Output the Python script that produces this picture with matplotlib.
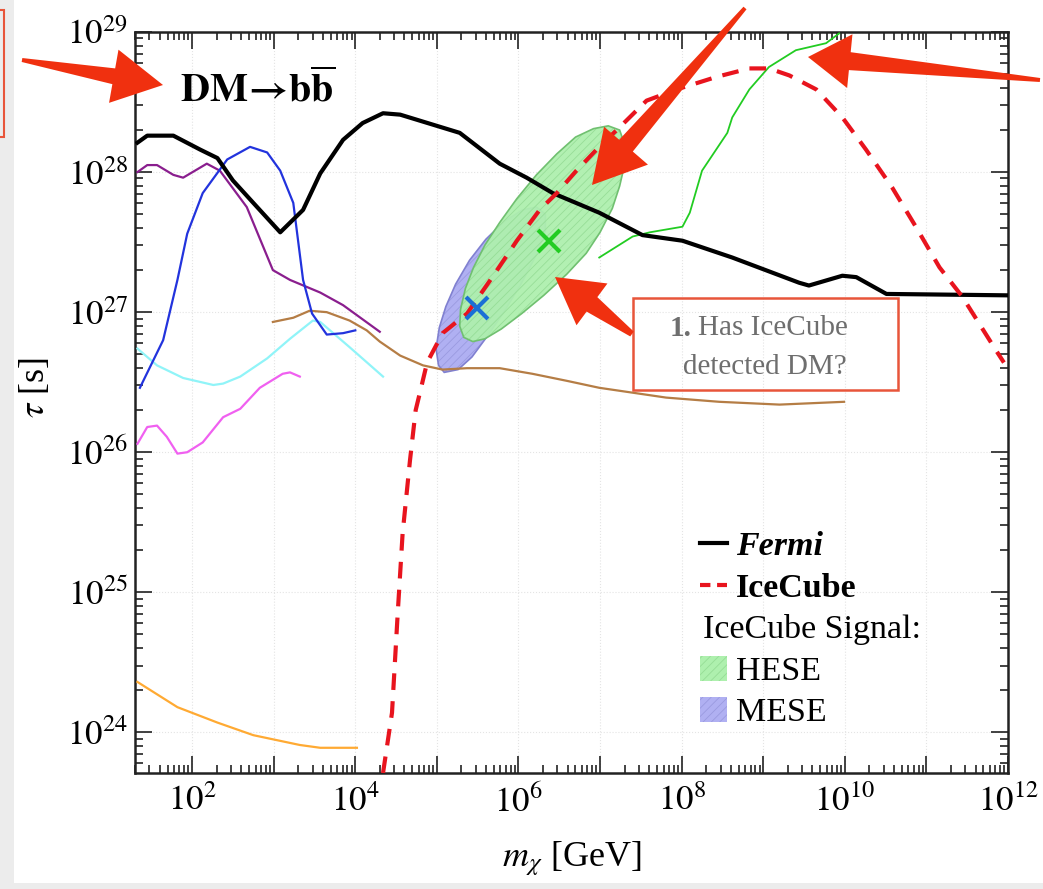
import numpy as np
import matplotlib
matplotlib.use('Agg')
import matplotlib.pyplot as plt
import matplotlib.patches as mpatches
from matplotlib.lines import Line2D
from matplotlib.ticker import LogLocator, FuncFormatter, NullFormatter

plt.rcParams['font.family'] = ['Liberation Serif', 'DejaVu Serif']
plt.rcParams['mathtext.fontset'] = 'stix'
plt.rcParams['hatch.linewidth'] = 0.6

# curves, as log10(m / GeV) and log10(tau / s)
fermi_lm = [1.33, 1.45, 1.77, 2.10, 2.31, 2.50, 2.75, 3.08, 3.36, 3.57, 3.85, 4.09, 4.34, 4.55,
            5.28, 5.77, 6.10, 6.42, 6.99, 7.52, 8.01, 8.62, 9.44, 9.56, 9.97, 10.14, 10.51, 12.0]
fermi_lt = [28.21, 28.26, 28.26, 28.16, 28.10, 27.94, 27.78, 27.57, 27.73, 27.99, 28.23, 28.35, 28.42, 28.41,
            28.28, 28.06, 27.96, 27.85, 27.71, 27.55, 27.51, 27.39, 27.21, 27.19, 27.26, 27.25, 27.13, 27.12]

icecube_lm = [4.34, 4.45, 4.52, 4.58, 4.67, 4.74, 4.79, 4.88, 5.07, 5.37, 5.68, 5.98, 6.26, 6.47, 6.71,
              6.99, 7.24, 7.57, 7.94, 8.43, 8.83, 9.07, 9.32, 9.65, 9.97, 10.26, 10.58, 10.87, 11.16,
              11.44, 11.85, 11.95]
icecube_lt = [23.71, 24.14, 24.85, 25.42, 25.94, 26.30, 26.42, 26.64, 26.85, 26.99, 27.25, 27.51, 27.73,
              27.85, 28.01, 28.18, 28.32, 28.51, 28.59, 28.68, 28.74, 28.74, 28.69, 28.59, 28.39, 28.16,
              27.89, 27.61, 27.32, 27.11, 26.73, 26.64]

purple_lm = [1.33, 1.45, 1.57, 1.77, 1.89, 2.18, 2.34, 2.67, 2.99, 3.20, 3.57, 3.85, 4.30]
purple_lt = [28.0, 28.05, 28.05, 27.98, 27.96, 28.06, 28.01, 27.75, 27.30, 27.23, 27.14, 27.05, 26.86]

blue_lm = [1.36, 1.645, 1.82, 1.94, 2.13, 2.43, 2.71, 2.92, 3.08, 3.24, 3.36, 3.47, 3.65, 3.85, 4.0]
blue_lt = [26.46, 26.80, 27.23, 27.56, 27.85, 28.09, 28.18, 28.14, 28.01, 27.78, 27.23, 26.99, 26.84, 26.85, 26.87]

cyan_lm = [1.33, 1.57, 1.89, 2.26, 2.38, 2.59, 2.92, 3.20, 3.48, 3.57, 3.93, 4.34]
cyan_lt = [26.74, 26.62, 26.53, 26.48, 26.49, 26.54, 26.67, 26.81, 26.94, 26.93, 26.75, 26.54]

magenta_lm = [1.33, 1.45, 1.57, 1.69, 1.82, 1.94, 2.13, 2.38, 2.59, 2.83, 3.11, 3.20, 3.32]
magenta_lt = [26.06, 26.18, 26.19, 26.11, 25.99, 26.0, 26.07, 26.25, 26.31, 26.46, 26.56, 26.57, 26.54]

orange_lm = [1.33, 1.82, 2.31, 2.75, 3.32, 3.57, 4.02]
orange_lt = [24.36, 24.18, 24.07, 23.98, 23.91, 23.89, 23.89]

brown_lm = [2.99, 3.24, 3.44, 3.65, 3.93, 4.14, 4.30, 4.55, 4.83, 5.07, 5.37, 5.77, 6.17, 6.59, 6.99,
            7.81, 8.46, 9.20, 9.99]
brown_lt = [26.93, 26.96, 27.01, 27.0, 26.94, 26.87, 26.79, 26.69, 26.62, 26.59, 26.60, 26.60, 26.56,
            26.51, 26.46, 26.39, 26.36, 26.34, 26.36]

green_lm = [6.99, 7.40, 7.61, 8.01, 8.10, 8.25, 8.56, 8.62, 8.83, 9.07, 9.40, 9.77, 9.93]
green_lt = [27.39, 27.54, 27.57, 27.61, 27.71, 28.01, 28.28, 28.39, 28.59, 28.75, 28.87, 28.92, 28.99]

# signal regions (contours)
hese_lm = [6.92, 7.10, 7.24, 7.30, 7.30, 7.24, 7.15, 7.00, 6.83, 6.59, 6.31, 6.04, 5.79, 5.59, 5.44,
           5.33, 5.28, 5.29, 5.35, 5.45, 5.59, 5.77, 5.98, 6.22, 6.47, 6.70]
hese_lt = [28.31, 28.33, 28.30, 28.20, 28.05, 27.90, 27.74, 27.57, 27.42, 27.27, 27.12, 26.99, 26.88,
           26.81, 26.79, 26.82, 26.90, 27.02, 27.17, 27.32, 27.48, 27.64, 27.81, 27.98, 28.13, 28.25]
mese_lm = [5.09, 5.02, 4.99, 5.03, 5.11, 5.23, 5.40, 5.60, 5.83, 6.05, 6.22, 6.33, 6.33, 6.22, 6.03,
           5.82, 5.62, 5.43, 5.26]
mese_lt = [26.57, 26.62, 26.74, 26.89, 27.04, 27.20, 27.37, 27.52, 27.65, 27.73, 27.75, 27.70, 27.58,
           27.41, 27.20, 27.00, 26.83, 26.68, 26.59]
hese_best = (6.38, 27.51)
mese_best = (5.49, 27.03)


def pw(a):
    return 10 ** np.array(a)


fig = plt.figure(figsize=(10.43, 8.89), dpi=100)
fig.patch.set_facecolor('white')
ax = fig.add_axes([135 / 1043, 1 - 773 / 889, 873 / 1043, 741 / 889])
ax.set_xscale('log')
ax.set_yscale('log')
ax.set_xlim(10 ** 1.3, 1e12)
ax.set_ylim(10 ** 23.71, 1e29)

# signal regions
ax.fill(pw(mese_lm), pw(mese_lt), facecolor='#b0b0f2', edgecolor='#9a9ae0', hatch='////', lw=0, zorder=2)
ax.fill(pw(mese_lm), pw(mese_lt), fill=False, edgecolor='#8080d0', lw=1.2, zorder=2)
ax.fill(pw(hese_lm), pw(hese_lt), facecolor='#aef0ae', edgecolor='#96dd96', hatch='////', lw=0,
        alpha=0.95, zorder=2.1)
ax.fill(pw(hese_lm), pw(hese_lt), fill=False, edgecolor='#70c070', lw=1.2, zorder=2.1)

ax.plot(pw(orange_lm), pw(orange_lt), color='#ffaa33', lw=1.6, zorder=3)
ax.plot(pw(magenta_lm), pw(magenta_lt), color='#f060f0', lw=1.6, zorder=3)
ax.plot(pw(cyan_lm), pw(cyan_lt), color='#90f4f8', lw=1.6, zorder=3)
ax.plot(pw(brown_lm), pw(brown_lt), color='#b57d45', lw=1.6, zorder=3)
ax.plot(pw(purple_lm), pw(purple_lt), color='#8a1e8e', lw=1.6, zorder=3)
ax.plot(pw(blue_lm), pw(blue_lt), color='#2233dd', lw=1.6, zorder=3)
ax.plot(pw(green_lm), pw(green_lt), color='#22cc22', lw=1.3, zorder=3)
ax.plot(pw(fermi_lm), pw(fermi_lt), color='black', lw=3, zorder=4)
ax.plot(pw(icecube_lm), pw(icecube_lt), color='#e8141e', lw=3, ls=(0, (4, 2.7)), zorder=4)

ax.plot(10 ** hese_best[0], 10 ** hese_best[1], marker='x', ms=16, mew=3, color='#22cc22', zorder=5)
ax.plot(10 ** mese_best[0], 10 ** mese_best[1], marker='x', ms=16, mew=3, color='#1a6fd6', zorder=5)

# ticks
ax.xaxis.set_major_locator(LogLocator(base=10, numticks=30))
ax.xaxis.set_minor_locator(LogLocator(base=10, subs=np.arange(2, 10), numticks=30))
ax.yaxis.set_major_locator(LogLocator(base=10, numticks=30))
ax.yaxis.set_minor_locator(LogLocator(base=10, subs=np.arange(2, 10), numticks=30))


def xfmt(v, p):
    e = int(round(np.log10(v)))
    return r'$10^{%d}$' % e if e % 2 == 0 else ''


ax.xaxis.set_major_formatter(FuncFormatter(xfmt))
ax.yaxis.set_major_formatter(FuncFormatter(lambda v, p: r'$10^{%d}$' % int(round(np.log10(v)))))
ax.xaxis.set_minor_formatter(NullFormatter())
ax.yaxis.set_minor_formatter(NullFormatter())
ax.tick_params(which='both', direction='in', top=True, right=True, width=1.2, color='#222222')
ax.tick_params(which='major', length=12, labelsize=25)
ax.tick_params(which='minor', length=6)
ax.tick_params(axis='x', pad=9)
ax.tick_params(axis='y', pad=5)
for s in ax.spines.values():
    s.set_linewidth(1.8)
    s.set_color('#222222')
ax.grid(True, which='major', color='#e4e4e4', ls=':', lw=0.8)
ax.set_axisbelow(True)

ax.set_xlabel(r'$m_\chi$ [GeV]', fontsize=26, va='center')
ax.set_ylabel(r'$\tau$ [s]', fontsize=26, va='center')
ax.xaxis.set_label_coords(0.5, -0.115)
ax.yaxis.set_label_coords(-0.115, 0.52)

ax.text(180 / 1043, 1 - 90 / 889, r'$\mathbf{DM\!\rightarrow\! b}\overline{\mathbf{b}}$',
        transform=fig.transFigure, fontsize=29, va='center', ha='left')

handles = [Line2D([], [], color='black', lw=3),
           Line2D([], [], color='#e8141e', lw=3, ls=(0, (2.5, 1.6))),
           Line2D([], [], color='none'),
           mpatches.Patch(facecolor='#aef0ae', edgecolor='#96dd96', hatch='////', lw=0),
           mpatches.Patch(facecolor='#b0b0f2', edgecolor='#9a9ae0', hatch='////', lw=0)]
labels = ['Fermi', 'IceCube', 'IceCube Signal:', 'HESE', 'MESE']
leg = ax.legend(handles, labels, loc='upper left', bbox_to_anchor=(700 / 1043, 1 - 531 / 889),
                bbox_transform=fig.transFigure, frameon=False, fontsize=24.5, handlelength=0.8,
                handleheight=0.75, handletextpad=0.25, labelspacing=0.3, borderpad=0, borderaxespad=0)
leg.set_zorder(10)
t = leg.get_texts()
t[0].set_fontweight('bold')
t[0].set_fontstyle('italic')
t[1].set_fontweight('bold')
t[2].set_x(-33)

# slide overlay: background strips, callout box and red arrows (pixel coordinates)
ov = fig.add_axes([0, 0, 1, 1], zorder=20)
ov.set_xlim(0, 1043)
ov.set_ylim(889, 0)
ov.axis('off')
ov.patch.set_alpha(0)
ov.add_patch(mpatches.Rectangle((0, 0), 14, 889, facecolor='#ececec', lw=0))
ov.add_patch(mpatches.Rectangle((0, 883), 1043, 6, facecolor='#ececec', lw=0))
ov.add_patch(mpatches.Rectangle((-10, 10), 14, 127, facecolor='none', edgecolor='#e8553a', lw=1.5))
ov.add_patch(mpatches.Rectangle((633, 298), 265, 92, facecolor='none', edgecolor='#e8553a', lw=1.8))
ov.text(691, 328, '1.', fontsize=21, fontweight='bold', color='#6e6e6e', ha='right', va='center')
ov.text(698, 328, 'Has IceCube', fontsize=21, color='#6e6e6e', ha='left', va='center')
ov.text(765, 367, 'detected DM?', fontsize=21, color='#6e6e6e', ha='center', va='center')


def red_arrow(x0, y0, x1, y1, w0, w1, hw, hl):
    d = np.array([x1 - x0, y1 - y0], float)
    u = d / np.hypot(*d)
    n = np.array([-u[1], u[0]])
    tail = np.array([x0, y0], float)
    tip = np.array([x1, y1], float)
    neck = tip - u * hl
    pts = [tail + n * w0 / 2, neck + n * w1 / 2, neck + n * hw / 2, tip,
           neck - n * hw / 2, neck - n * w1 / 2, tail - n * w0 / 2]
    ov.add_patch(mpatches.Polygon(pts, closed=True, facecolor='#f0300f', edgecolor='none'))


red_arrow(22, 60, 163, 85, 4, 16, 54, 50)
red_arrow(745, 8, 592, 185, 4, 18, 58, 52)
red_arrow(1040, 80, 808, 57, 4, 18, 54, 42)
red_arrow(632, 334, 555, 277, 6, 18, 52, 46)

fig.savefig('out.png', dpi=100, facecolor=fig.get_facecolor())
